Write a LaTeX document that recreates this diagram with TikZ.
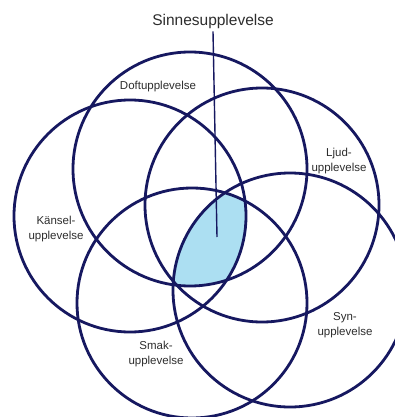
\documentclass[tikz,border=0pt]{standalone}
\usepackage{fontspec}
\setmainfont{Liberation Sans}
\definecolor{ring}{RGB}{22,24,96}
\definecolor{lens}{RGB}{172,223,242}
\definecolor{txt}{RGB}{45,45,45}
\begin{document}
\begin{tikzpicture}[x=1pt,y=-1pt,
  ringline/.style={draw=ring,line width=2.8pt},
  lbl/.style={align=center,text=txt,inner sep=0pt,font=\fontsize{11.5}{15}\selectfont},
  ttl/.style={text=txt,inner sep=1pt,font=\fontsize{15.5}{18}\selectfont},
  leader/.style={draw=ring,line width=1.4pt}]
\useasboundingbox (0,0) rectangle (395,417);
\fill[white] (0,0) rectangle (395,417);
% shaded common region
\begin{scope}
  \clip (190,169) circle[radius=117pt];
  \clip (130,216) circle[radius=116pt];
  \clip (262,205) circle[radius=117pt];
  \clip (290,290) circle[radius=117pt];
  \clip (192,303) circle[radius=115pt];
  \fill[lens] (0,0) rectangle (395,417);
\end{scope}
% circles
\draw[ringline] (190,169) circle[radius=117pt];
\draw[ringline] (130,216) circle[radius=116pt];
\draw[ringline] (262,205) circle[radius=117pt];
\draw[ringline] (290,290) circle[radius=117pt];
\draw[ringline] (192,303) circle[radius=115pt];
% title and leader
\node[ttl] (title) at (213,21) {Sinnesupplevelse};
\coordinate (tip) at (217,237);
\draw[leader] (title.south) ++(0,-2pt) coordinate (top) (top) -- (tip);
% labels
\node[lbl] (doft) at (158,87) {Doftupplevelse};
\node[lbl] (ljud) at (339,161) {Ljud-\\upplevelse};
\node[lbl] (kansel) at (56,229) {Känsel-\\upplevelse};
\node[lbl] (syn) at (345,325) {Syn-\\upplevelse};
\node[lbl] (smak) at (156,354) {Smak-\\upplevelse};
\end{tikzpicture}
\end{document}
